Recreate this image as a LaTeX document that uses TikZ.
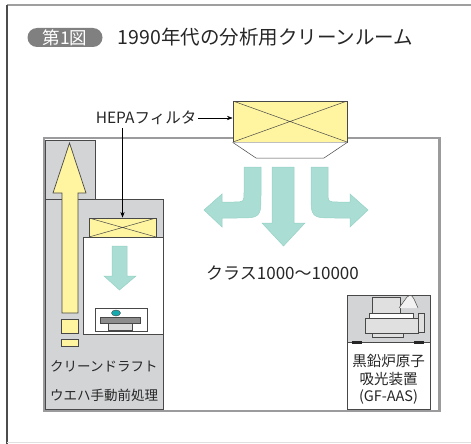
\documentclass[tikz,border=0pt]{standalone}
\usepackage{fontspec}
\setmainfont{Noto Sans CJK JP}
\usetikzlibrary{arrows.meta,positioning}

\definecolor{filteryellow}{RGB}{255,244,160}
\definecolor{airteal}{RGB}{170,221,211}
\definecolor{airedge}{RGB}{150,210,198}
\definecolor{draftgray}{RGB}{211,212,214}
\definecolor{wallgray}{RGB}{155,155,158}
\definecolor{linedark}{RGB}{72,72,72}
\definecolor{badgegray}{RGB}{128,128,128}
\definecolor{dropteal}{RGB}{20,170,175}

\tikzset{
  hepa/.style={draw=linedark, fill=filteryellow, line width=0.7pt, inner sep=0pt,
    path picture={\draw[linedark, line width=0.5pt]
      (path picture bounding box.north west) -- (path picture bounding box.south east)
      (path picture bounding box.south west) -- (path picture bounding box.north east);}},
  airflow/.style={fill=airteal, draw=airedge, line width=0.5pt},
  graybox/.style={draw=linedark, fill=draftgray, line width=0.8pt},
  whitebox/.style={draw=linedark, fill=white, line width=0.8pt},
  part/.style={draw=linedark, fill=black!12, line width=0.5pt},
  txt/.style={text=black!85, inner sep=0pt},
}

\begin{document}
\begin{tikzpicture}[x=1pt, y=-1pt, >=Stealth]
\useasboundingbox (0,0) rectangle (471,444);
% frame of the figure
\draw[gray!75, line width=1.2pt] (7,5) -- (471,5);
\draw[black!70, line width=1.2pt] (7,5) -- (7,444);
\draw[black!12, line width=0.8pt] (7,442.5) -- (471,442.5);

% title
\node[fill=badgegray, text=white, rounded corners=9.5pt, minimum width=75pt, minimum height=19pt,
      inner sep=0pt, font=\fontsize{17.5}{17.5}\selectfont] (badge) at (65,37.5) {第1図};
\node[txt, right=15pt of badge, font=\fontsize{19.5}{20}\selectfont] (title) {1990年代の分析用クリーンルーム};

% room wall and ceiling filter
\draw[wallgray, line width=2.6pt] (44,138) rectangle (439.5,411);
\node[hepa, minimum width=114pt, minimum height=41pt] (ceilhepa) at (290,121.5) {};
\draw[linedark, fill=white, line width=0.5pt] (ceilhepa.south west) -- (256,158) -- (324,158) -- (ceilhepa.south east);

% air from the ceiling
\draw[airflow] (272,167) -- (294,167) -- (294,223) -- (305,223) -- (283.5,246) -- (262,223) -- (272,223) -- cycle;
\foreach \s in {1,-1}
  \draw[airflow, shift={(286,0)}, xscale=\s] (-42,167) -- (-42,192) .. controls (-42,202) .. (-52,202)
    -- (-64,202) -- (-64,194) -- (-82,210) -- (-64,227) -- (-64,218) -- (-50,218)
    .. controls (-25,218) .. (-25,193) -- (-25,167) -- cycle;
\node[txt, font=\fontsize{17}{18}\selectfont] (classlbl) at (282.5,273) {クラス1000〜10000};

% clean draft
\draw[graybox] (45,140) rectangle (95,199);
\draw[graybox] (45,199) rectangle (163,409);
\draw[whitebox] (83,237) rectangle (163,334);
\node[hepa, minimum width=67pt, minimum height=19pt] (draftfilter) at (122.5,227.5) {};
\draw[airflow] (112,246) -- (127,246) -- (127,276) -- (136,276) -- (119.5,290) -- (104,276) -- (112,276) -- cycle;
\draw[draw=linedark, fill=filteryellow, line width=0.7pt]
  (69.5,143) -- (86,193) -- (78,193) -- (78,313) -- (62,313) -- (62,193) -- (53,193) -- cycle;
\foreach \ya/\yb in {319/333, 339/346}
  \draw[draw=linedark, fill=filteryellow, line width=0.7pt] (61.5,\ya) rectangle (78,\yb);
% hot plate with wafer
\draw[linedark, fill=white, line width=0.6pt] (95,308) rectangle (147,331);
\draw[linedark, fill=black!15, line width=0.5pt] (108,323) rectangle (132,330);
\draw[linedark, fill=black!45, line width=0.5pt] (100,317) rectangle (140,323);
\draw[linedark, fill=dropteal, line width=0.4pt] (116,313) ellipse [x radius=4.5, y radius=3];
\node[txt, anchor=west, font=\fontsize{13.5}{14}\selectfont] (draftname) at (50,366) {クリーンドラフト};
\node[txt, anchor=west, font=\fontsize{13.5}{14}\selectfont] (draftuse) at (50,395) {ウエハ手動前処理};

% filter label
\node[txt, font=\fontsize{15.5}{16}\selectfont] (hepalbl) at (146,118) {HEPAフィルタ};
\draw[->, line width=0.6pt, shorten <=2pt] (hepalbl.east) -- (hepalbl.east -| ceilhepa.west);
\draw[->, line width=0.6pt, shorten <=3pt] (hepalbl.south -| draftfilter.north) -- (draftfilter.north);

% GF-AAS
\draw[graybox] (347,295) rectangle (430,342);
\draw[whitebox] (347,342) rectangle (430,409);
\foreach \x in {352,414}
  \fill[black!85] (\x,340.5) rectangle ++(10,3.5);
\draw[part] (372,297) rectangle (400,313);
\draw[part, fill=black!5] (399,308) -- (407,297) .. controls (411,294.5) .. (414,299) -- (418,308);
\draw[part] (418,313) rectangle (424,332);
\draw[part, fill=white] (369,313) rectangle (413,318);
\draw[part] (365,318) rectangle (418,333);
\draw[part] (372,333) rectangle (403,337);
\node[txt, font=\fontsize{14.5}{15}\selectfont] (gfname) at (388.5,361) {黒鉛炉原子};
\node[txt, font=\fontsize{14.5}{15}\selectfont] (gfkind) at (388.5,379) {吸光装置};
\node[txt, font=\fontsize{14.5}{15}\selectfont] (gfabbr) at (388.5,397) {(GF-AAS)};
\end{tikzpicture}
\end{document}
